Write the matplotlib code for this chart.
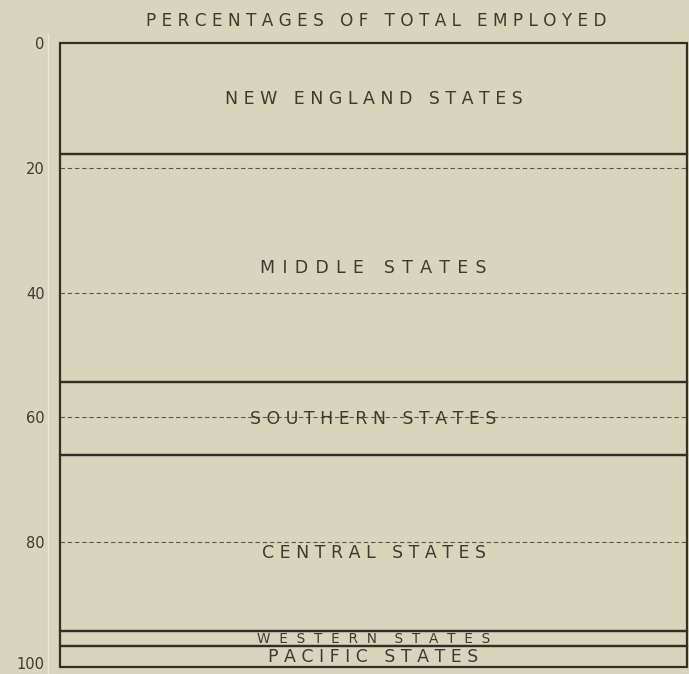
import matplotlib.pyplot as plt
import matplotlib.transforms as mtransforms
import numpy as np

# share of total employed, read from top to bottom
regions = ['NEW ENGLAND STATES', 'MIDDLE STATES', 'SOUTHERN STATES',
           'CENTRAL STATES', 'WESTERN STATES', 'PACIFIC STATES']
shares = [17.8, 36.6, 11.7, 28.2, 2.4, 3.3]
ticks = [0, 20, 40, 60, 80, 100]

paper = '#d9d4bc'
ink = '#352e25'
txt = '#3f3a31'
HAIR = '\u200a'


def track(s, gap, wgap=None):
    # fake letter spacing like the old engraved lettering
    if wgap is None:
        wgap = gap + ' ' + gap
    return wgap.join(gap.join(w) for w in s.split(' '))


fig = plt.figure(figsize=(6.89, 6.74), dpi=100, facecolor=paper)
ax = fig.add_axes([0.0871, 0.0104, 0.9100, 0.9258])
ax.set_facecolor(paper)

bottoms = np.concatenate([[0], np.cumsum(shares)[:-1]])
bars = ax.bar(0, shares, bottom=bottoms, width=1.0, facecolor='none',
              edgecolor=ink, linewidth=1.6)
for r in bars:
    r.set_clip_on(False)

# dashed guide lines
for t in ticks[1:-1]:
    ax.axhline(t, color='#5e5648', lw=0.8, ls=(0, (4, 2.5)), zorder=0)

sizes = [12.5, 12.5, 12.5, 12.5, 9.8, 12.5]
gaps = [' ', ' ' + HAIR, ' ', ' ', '  ', ' ']
wgaps = [None, None, None, None, '    ', None]
offs = [0, 0, 0, 1.5, 0, 0]
for name, b, s, fs, g, wg, o in zip(regions, bottoms, shares, sizes, gaps,
                                    wgaps, offs):
    ax.text(0, b + s / 2 + o, track(name, g, wg), ha='center', va='center',
            fontsize=fs, color=txt)

ax.set_xlim(-0.5, 0.5)
ax.set_ylim(100, 0)
ax.set_xticks([])
ax.set_yticks(ticks)
ax.set_yticklabels([str(t) for t in ticks], fontsize=10.5, color=txt)
ax.tick_params(axis='y', length=0, pad=11)
for sp in ax.spines.values():
    sp.set_visible(False)
# keep the "100" inside the sheet
last = ax.get_yticklabels()[-1]
last.set_transform(last.get_transform() + mtransforms.ScaledTranslation(
    0, 3 / 72, fig.dpi_scale_trans))

fig.text(0.546, 0.969, track('PERCENTAGES OF TOTAL EMPLOYED', ' '),
         ha='center', va='center', fontsize=12.2, color=txt)

# faint scan edge on the left
fig.add_artist(plt.Line2D([0.07, 0.07], [0, 0.95], color='#ebe7d6', lw=1))

fig.savefig('out.png', dpi=100, facecolor=paper)
